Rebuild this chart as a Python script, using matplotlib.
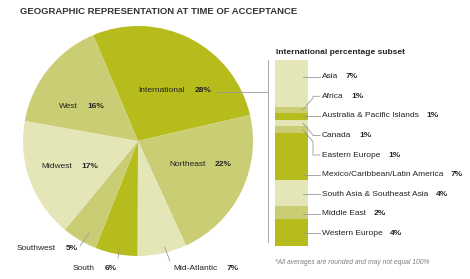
import numpy as np
import matplotlib.pyplot as plt

plt.rcParams['font.family'] = ['Liberation Sans', 'DejaVu Sans']

regions = ["International", "Northeast", "Mid-Atlantic", "South",
           "Southwest", "Midwest", "West"]
region_pct = [28, 22, 7, 6, 5, 17, 16]
region_shade = ["dark", "mid", "light", "dark", "mid", "light", "mid"]

intl = ["Asia", "Africa", "Australia & Pacific Islands", "Canada",
        "Eastern Europe", "Mexico/Caribbean/Latin America",
        "South Asia & Southeast Asia", "Middle East", "Western Europe"]
intl_pct = [7, 1, 1, 1, 1, 7, 4, 2, 4]
intl_shade = ["light", "mid", "dark", "light", "mid", "dark", "light", "mid", "dark"]

shades = {"dark": "#b6bc1c", "mid": "#cbcd74", "light": "#e5e6b8"}
txt = "#222222"
grey = "#9a9a9a"
fs = 6.0

W, H = 470, 279
fig = plt.figure(figsize=(W / 100, H / 100), dpi=100)

# pie: centre (138,141), radius 115 px
cx, cy, r = 138, 141, 115
axp = fig.add_axes([(cx - r) / W, (H - cy - r) / H, 2 * r / W, 2 * r / H])
axp.pie(region_pct, colors=[shades[s] for s in region_shade],
        startangle=112.9, counterclock=False, radius=1,
        wedgeprops=dict(linewidth=0))
axp.set_xlim(-1, 1)
axp.set_ylim(-1, 1)
axp.axis("off")

# stacked bar
bx0, bx1, by0, by1 = 275, 308, 60, 246
axb = fig.add_axes([bx0 / W, (H - by1) / H, (bx1 - bx0) / W, (by1 - by0) / H])
bottoms = np.cumsum([0] + intl_pct[:-1])
axb.bar(0, intl_pct, bottom=bottoms, width=1,
        color=[shades[s] for s in intl_shade], linewidth=0)
axb.set_xlim(-0.5, 0.5)
axb.set_ylim(sum(intl_pct), 0)
axb.axis("off")

# overlay in pixel coords for text / leaders
ax = fig.add_axes([0, 0, 1, 1])
ax.set_xlim(0, W)
ax.set_ylim(H, 0)
ax.axis("off")
ax.set_zorder(5)


def pair(x, y, name, pct, gap=6):
    t = ax.text(x, y, name, fontsize=fs, color=txt, va="center", ha="left")
    ax.annotate(f"{pct}%", xy=(1, 0.5), xycoords=t, xytext=(gap, 0),
                textcoords="offset points", fontsize=fs, fontweight="bold",
                color=txt, va="center", ha="left")


pie_labels = {
    "International": (138, 91),
    "Northeast": (169, 164),
    "Mid-Atlantic": (173, 268),
    "South": (73, 268),
    "Southwest": (17, 249),
    "Midwest": (41, 167),
    "West": (59, 107),
}
for name, pct in zip(regions, region_pct):
    x, y = pie_labels[name]
    pair(x, y, name, pct, gap=7)

# outside leaders
ax.plot([80, 89], [246, 233], color=grey, lw=0.6)
ax.plot([118, 120], [258, 246], color=grey, lw=0.6)
ax.plot([170, 164.5], [261, 247], color=grey, lw=0.6)

# international link to subset
ax.plot([217, 268], [92, 92], color=grey, lw=0.6)
ax.plot([268, 268], [60, 242], color=grey, lw=0.6)

ax.text(20, 12, "GEOGRAPHIC REPRESENTATION AT TIME OF ACCEPTANCE",
        fontsize=6.8, fontweight="bold", color="#333333", va="center", ha="left")

ax.text(275.5, 52, "International percentage subset", fontsize=fs,
        fontweight="bold", color=txt, va="center", ha="left")

fig.canvas.draw()
to_px = ax.transData.inverted()
lx0, lx1, tx = 303, 320, 322
for i, (name, pct, b) in enumerate(zip(intl, intl_pct, bottoms)):
    ly = 76.7 + 19.58 * i
    top = to_px.transform(axb.transData.transform((0, b)))[1]
    bot = to_px.transform(axb.transData.transform((0, b + pct)))[1]
    mid = (top + bot) / 2
    if top + 1 < ly < bot - 1:
        ax.plot([lx0, lx1], [ly, ly], color=grey, lw=0.6)
    else:
        d = ly - mid
        step = np.sign(d) * min(abs(d), 12)
        ax.plot([lx0, 313, 313, lx1], [mid, mid + step, ly, ly],
                color=grey, lw=0.6)
    pair(tx, ly, name, pct, gap=5.5)

ax.text(275, 263, "*All averages are rounded and may not equal 100%",
        fontsize=4.9, style="italic", color="#808080", va="center", ha="left")

fig.savefig("out.png", dpi=100)
